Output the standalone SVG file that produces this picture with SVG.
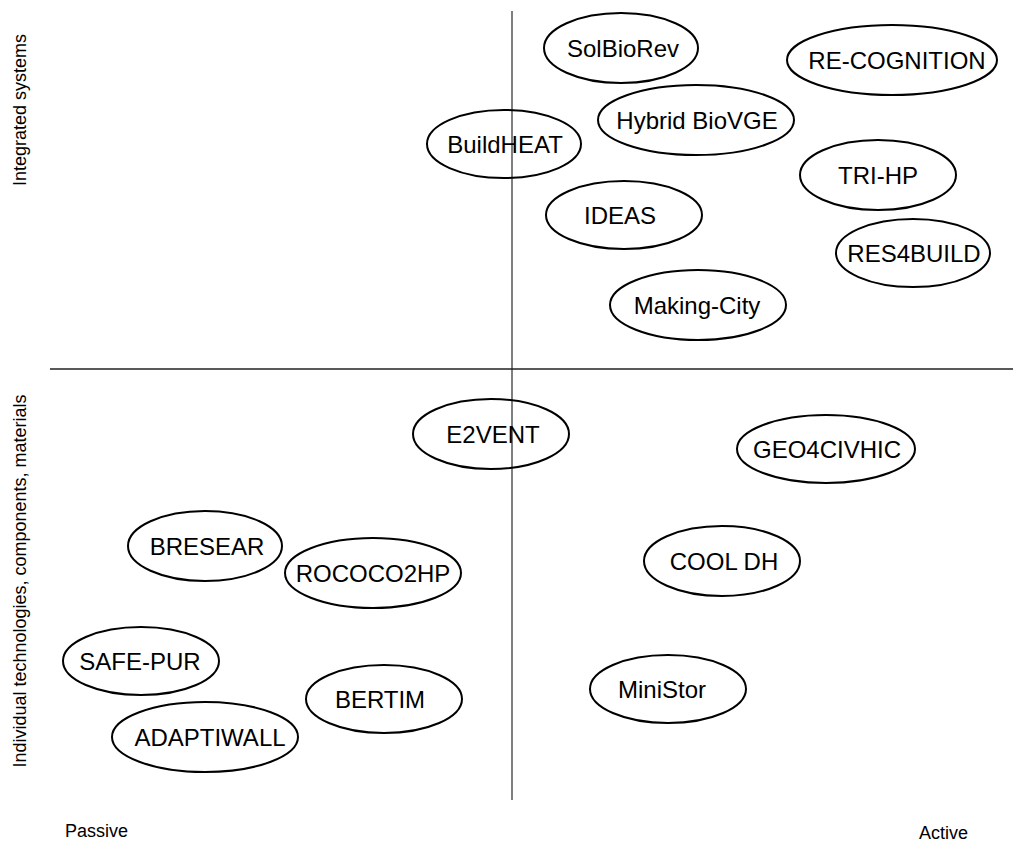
<svg xmlns="http://www.w3.org/2000/svg" width="1013" height="841" viewBox="0 0 1013 841">
<style>
.n ellipse{fill:none;stroke:#000;stroke-width:2}
.n text{font-family:"Liberation Sans",Arial,sans-serif;font-size:24px;fill:#000;text-anchor:middle}
.ax{font-family:"Liberation Sans",Arial,sans-serif;font-size:18px;fill:#000}
.axis{stroke-width:1.5;fill:none}
</style>
<rect width="1013" height="841" fill="#fff"/>
<g id="axes">
<line class="axis" x1="512" y1="11" x2="512" y2="800" stroke="#555"/>
<line class="axis" x1="50" y1="369" x2="1013" y2="369" stroke="#222"/>
</g>
<g id="axis-labels">
<text class="ax" transform="translate(26,110) rotate(-90)" text-anchor="middle">Integrated systems</text>
<text class="ax" transform="translate(26,581) rotate(-90)" text-anchor="middle">Individual technologies, components, materials</text>
<text class="ax" x="65" y="837">Passive</text>
<text class="ax" x="919" y="839">Active</text>
</g>
<g id="SolBioRev" class="n"><ellipse cx="621" cy="48" rx="77" ry="35"/><text x="623" y="57">SolBioRev</text></g>
<g id="RE-COGNITION" class="n"><ellipse cx="892" cy="60" rx="105" ry="35"/><text x="897" y="69">RE-COGNITION</text></g>
<g id="HybridBioVGE" class="n"><ellipse cx="696" cy="120" rx="98" ry="35"/><text x="697" y="129">Hybrid BioVGE</text></g>
<g id="BuildHEAT" class="n"><ellipse cx="504" cy="144" rx="77" ry="34"/><text x="505" y="153">BuildHEAT</text></g>
<g id="TRI-HP" class="n"><ellipse cx="878" cy="175" rx="78" ry="35"/><text x="878" y="184">TRI-HP</text></g>
<g id="IDEAS" class="n"><ellipse cx="624" cy="215" rx="78" ry="34"/><text x="620" y="224">IDEAS</text></g>
<g id="RES4BUILD" class="n"><ellipse cx="913" cy="253" rx="77" ry="34"/><text x="914" y="262">RES4BUILD</text></g>
<g id="Making-City" class="n"><ellipse cx="698" cy="305" rx="88" ry="35"/><text x="697" y="314">Making-City</text></g>
<g id="E2VENT" class="n"><ellipse cx="491" cy="434" rx="78" ry="35"/><text x="493" y="443">E2VENT</text></g>
<g id="GEO4CIVHIC" class="n"><ellipse cx="826" cy="449" rx="89" ry="34"/><text x="827" y="458">GEO4CIVHIC</text></g>
<g id="BRESEAR" class="n"><ellipse cx="205" cy="546" rx="77" ry="35"/><text x="207" y="555">BRESEAR</text></g>
<g id="ROCOCO2HP" class="n"><ellipse cx="373" cy="573" rx="88" ry="35"/><text x="373" y="582">ROCOCO2HP</text></g>
<g id="COOLDH" class="n"><ellipse cx="722" cy="561" rx="78" ry="35"/><text x="724" y="570">COOL DH</text></g>
<g id="SAFE-PUR" class="n"><ellipse cx="141" cy="661" rx="78" ry="34"/><text x="140" y="670">SAFE-PUR</text></g>
<g id="BERTIM" class="n"><ellipse cx="384" cy="699" rx="78" ry="34"/><text x="380" y="708">BERTIM</text></g>
<g id="MiniStor" class="n"><ellipse cx="668" cy="689" rx="78" ry="34"/><text x="662" y="698">MiniStor</text></g>
<g id="ADAPTIWALL" class="n"><ellipse cx="205" cy="737" rx="93" ry="35"/><text x="210" y="746">ADAPTIWALL</text></g>
</svg>
